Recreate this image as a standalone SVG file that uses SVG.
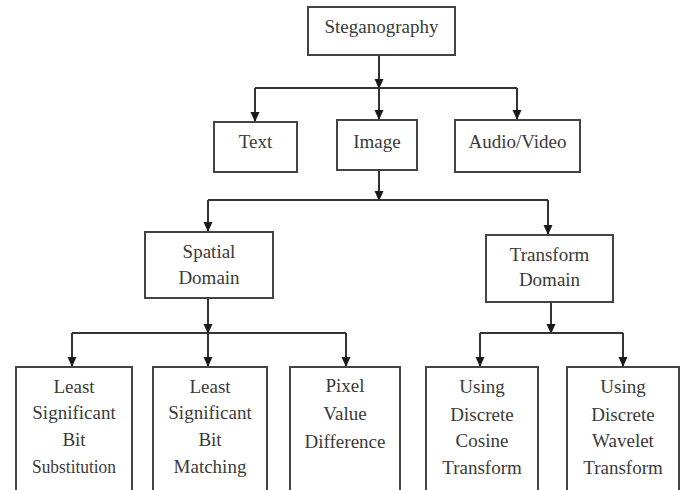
<svg xmlns="http://www.w3.org/2000/svg" width="684" height="490" viewBox="0 0 684 490">
<defs>
<marker id="arr" markerUnits="userSpaceOnUse" markerWidth="10" markerHeight="10" viewBox="0 0 10 10" refX="10" refY="5" orient="auto">
<path d="M0,0.5 L10,5 L0,9.5 Z" fill="#1a1a1a"/>
</marker>
<style>
.box{fill:#fff;stroke:#444;stroke-width:2}
.lbl{font-family:"Liberation Serif","Times New Roman",serif;font-size:19px;fill:#3a3a3a;text-anchor:middle}
.ln{fill:none;stroke:#333;stroke-width:2}
.ar{fill:none;stroke:#333;stroke-width:2;marker-end:url(#arr)}
</style>
</defs>
<rect width="684" height="490" fill="#fff"/>
<g id="connectors">
<line class="ar" x1="379" y1="55" x2="379" y2="89"/>
<line class="ln" x1="255" y1="88" x2="517" y2="88"/>
<line class="ar" x1="255" y1="88" x2="255" y2="122"/>
<line class="ar" x1="379" y1="88" x2="379" y2="120"/>
<line class="ar" x1="517" y1="88" x2="517" y2="120"/>
<line class="ar" x1="379" y1="170" x2="379" y2="201"/>
<line class="ln" x1="208" y1="200" x2="548" y2="200"/>
<line class="ar" x1="208" y1="200" x2="208" y2="232"/>
<line class="ar" x1="548" y1="200" x2="548" y2="235"/>
<line class="ar" x1="208" y1="298" x2="208" y2="334"/>
<line class="ln" x1="72" y1="333" x2="346" y2="333"/>
<line class="ar" x1="72" y1="333" x2="72" y2="367"/>
<line class="ar" x1="208" y1="333" x2="208" y2="367"/>
<line class="ar" x1="346" y1="333" x2="346" y2="367"/>
<line class="ar" x1="551" y1="302" x2="551" y2="334"/>
<line class="ln" x1="480" y1="333" x2="623" y2="333"/>
<line class="ar" x1="480" y1="333" x2="480" y2="367"/>
<line class="ar" x1="623" y1="333" x2="623" y2="367"/>
</g>
<g id="steganography">
<rect class="box" x="308" y="7" width="147" height="48"/>
<text class="lbl" x="381.5" y="33">Steganography</text>
</g>
<g id="text">
<rect class="box" x="214" y="122" width="83" height="50"/>
<text class="lbl" x="255.5" y="148">Text</text>
</g>
<g id="image">
<rect class="box" x="337" y="120" width="80" height="50"/>
<text class="lbl" x="377" y="148">Image</text>
</g>
<g id="audio-video">
<rect class="box" x="455" y="120" width="125" height="52"/>
<text class="lbl" x="517.5" y="148">Audio/Video</text>
</g>
<g id="spatial-domain">
<rect class="box" x="145" y="232" width="128" height="66"/>
<text class="lbl" x="209" y="258">Spatial</text>
<text class="lbl" x="209" y="284">Domain</text>
</g>
<g id="transform-domain">
<rect class="box" x="486" y="235" width="127" height="67"/>
<text class="lbl" x="549.5" y="261">Transform</text>
<text class="lbl" x="549.5" y="286">Domain</text>
</g>
<g id="lsb-substitution">
<rect class="box" x="16" y="367" width="116" height="130"/>
<text class="lbl" x="74" y="393">Least</text>
<text class="lbl" x="74" y="419">Significant</text>
<text class="lbl" x="74" y="446">Bit</text>
<text class="lbl" x="74" y="473" textLength="84" lengthAdjust="spacingAndGlyphs">Substitution</text>
</g>
<g id="lsb-matching">
<rect class="box" x="153" y="367" width="114" height="130"/>
<text class="lbl" x="210" y="393">Least</text>
<text class="lbl" x="210" y="419">Significant</text>
<text class="lbl" x="210" y="446">Bit</text>
<text class="lbl" x="210" y="473">Matching</text>
</g>
<g id="pixel-value-difference">
<rect class="box" x="290" y="367" width="110" height="130"/>
<text class="lbl" x="345" y="392">Pixel</text>
<text class="lbl" x="345" y="420">Value</text>
<text class="lbl" x="345" y="448">Difference</text>
</g>
<g id="dct">
<rect class="box" x="426" y="367" width="112" height="130"/>
<text class="lbl" x="482" y="393">Using</text>
<text class="lbl" x="482" y="421">Discrete</text>
<text class="lbl" x="482" y="447">Cosine</text>
<text class="lbl" x="482" y="474">Transform</text>
</g>
<g id="dwt">
<rect class="box" x="567" y="367" width="112" height="130"/>
<text class="lbl" x="623" y="393">Using</text>
<text class="lbl" x="623" y="421">Discrete</text>
<text class="lbl" x="623" y="447">Wavelet</text>
<text class="lbl" x="623" y="474">Transform</text>
</g>
</svg>
